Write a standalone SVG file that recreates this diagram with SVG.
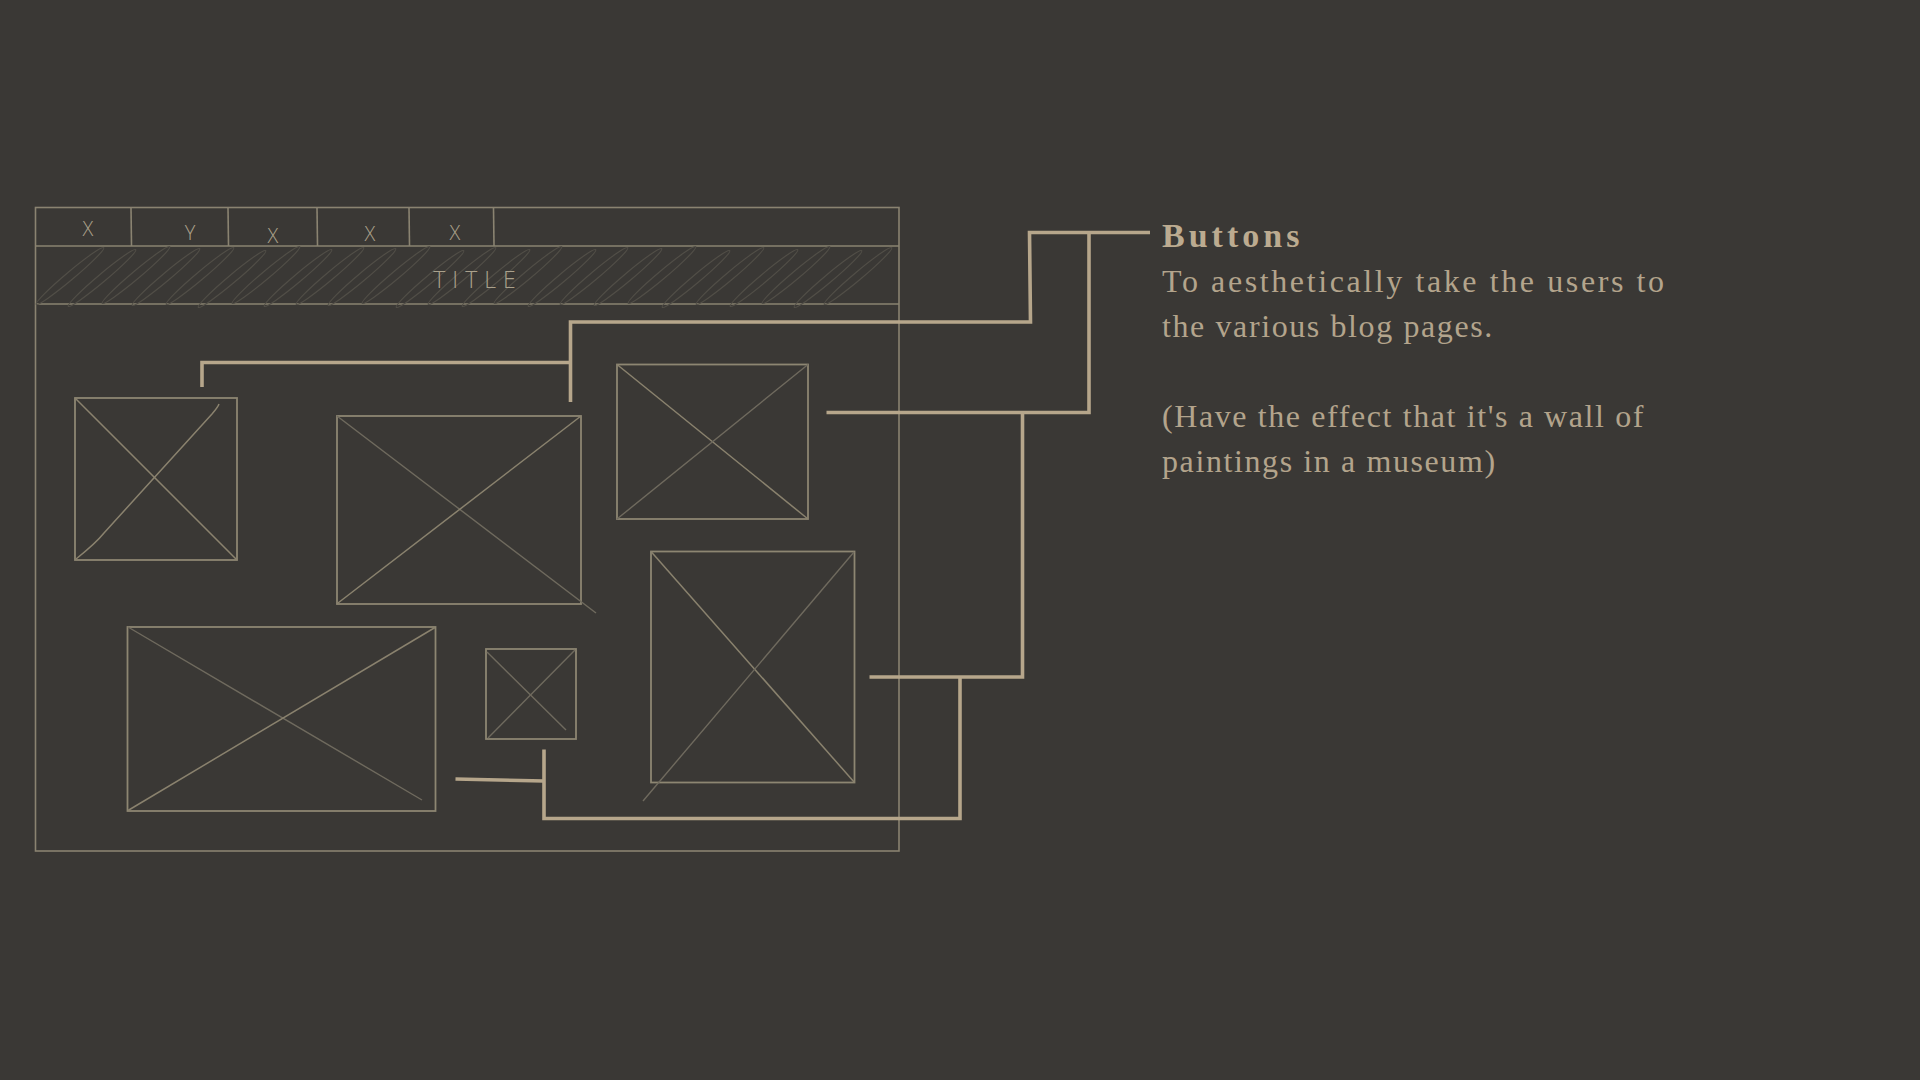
<svg xmlns="http://www.w3.org/2000/svg" width="1920" height="1080" viewBox="0 0 1920 1080">
<style>
.frame{fill:none;stroke:#8a8371;stroke-width:1.6}
.box{fill:none;stroke:#8d8672;stroke-width:1.8}
.diag{fill:none;stroke:#8a826e;stroke-width:1.5}
.diag2{fill:none;stroke:#6f6a5e;stroke-width:1.4}
.hatch{fill:none;stroke:#514e47;stroke-width:1.2}
.conn{fill:none;stroke:#b6a68b;stroke-width:3.6;stroke-linejoin:miter;stroke-linecap:butt}
.tabx{font-family:"Open Sans","Liberation Sans",sans-serif;font-weight:300;font-size:20px;fill:#aaa08a;text-anchor:middle}
.title{font-family:"Open Sans","Liberation Sans",sans-serif;font-weight:300;font-size:23px;fill:#aaa18c;letter-spacing:7px;text-anchor:middle}
.head{font-family:"Liberation Serif","Times New Roman",serif;font-weight:bold;font-size:34px;fill:#bcab90;letter-spacing:4px}
.body{font-family:"Liberation Serif","Times New Roman",serif;font-size:32px;fill:#b3a48c;letter-spacing:1.6px}
</style>
<defs>
  <ellipse id="loop" cx="0" cy="0" rx="44" ry="4" class="hatch" transform="rotate(-40)"/>
</defs>
<rect width="1920" height="1080" fill="#3a3835"/>

<g id="browser-window">
  <rect class="frame" x="35.5" y="207.5" width="863.5" height="643.5"/>
  <line class="frame" x1="35.5" y1="246" x2="899" y2="246"/>
  <line class="frame" x1="35.5" y1="304" x2="899" y2="304"/>
  <line class="frame" x1="131" y1="207.5" x2="131.5" y2="246"/>
  <line class="frame" x1="228" y1="207.5" x2="228.5" y2="246"/>
  <line class="frame" x1="317" y1="207.5" x2="317.5" y2="246"/>
  <line class="frame" x1="409" y1="207.5" x2="409.5" y2="246"/>
  <line class="frame" x1="493.5" y1="207.5" x2="494" y2="246"/>
</g>

<g id="tabs">
  <text class="tabx" x="88" y="236">X</text>
  <text class="tabx" x="190" y="240">Y</text>
  <text class="tabx" x="273" y="243">X</text>
  <text class="tabx" x="370" y="241">X</text>
  <text class="tabx" x="455" y="240">X</text>
</g>

<g id="title-bar">
  <use href="#loop" x="70" y="276"/>
  <use href="#loop" x="102" y="278"/>
  <use href="#loop" x="136" y="275"/>
  <use href="#loop" x="166" y="277"/>
  <use href="#loop" x="200" y="276"/>
  <use href="#loop" x="232" y="279"/>
  <use href="#loop" x="266" y="275"/>
  <use href="#loop" x="298" y="278"/>
  <use href="#loop" x="330" y="276"/>
  <use href="#loop" x="362" y="277"/>
  <use href="#loop" x="396" y="275"/>
  <use href="#loop" x="430" y="279"/>
  <use href="#loop" x="462" y="276"/>
  <use href="#loop" x="496" y="278"/>
  <use href="#loop" x="528" y="275"/>
  <use href="#loop" x="562" y="278"/>
  <use href="#loop" x="594" y="276"/>
  <use href="#loop" x="628" y="277"/>
  <use href="#loop" x="662" y="275"/>
  <use href="#loop" x="696" y="279"/>
  <use href="#loop" x="730" y="276"/>
  <use href="#loop" x="764" y="278"/>
  <use href="#loop" x="796" y="275"/>
  <use href="#loop" x="828" y="279"/>
  <use href="#loop" x="858" y="276"/>
  <text class="title" x="478" y="288">TITLE</text>
</g>

<g id="image-1">
  <rect class="box" x="75" y="398" width="162" height="162"/>
  <line class="diag" x1="75" y1="398" x2="237" y2="560"/>
  <path class="diag" d="M76,559 Q96,543 104,533 L212,414 Q218,407 219,404"/>
</g>

<g id="image-2">
  <rect class="box" x="337" y="416" width="244" height="188"/>
  <line class="diag2" x1="337" y1="416" x2="596" y2="613"/>
  <line class="diag" x1="338" y1="603" x2="581" y2="416"/>
</g>

<g id="image-3">
  <rect class="box" x="617" y="364.5" width="191" height="154.5"/>
  <line class="diag" x1="617" y1="364.5" x2="808" y2="519"/>
  <line class="diag2" x1="617" y1="519" x2="808" y2="364.5"/>
</g>

<g id="image-4">
  <rect class="box" x="651" y="551.5" width="203.5" height="231"/>
  <line class="diag" x1="651" y1="551.5" x2="854.5" y2="782.5"/>
  <line class="diag2" x1="643" y1="801" x2="854" y2="552"/>
</g>

<g id="image-5">
  <rect class="box" x="127.5" y="627" width="308" height="184"/>
  <line class="diag2" x1="128" y1="627" x2="422" y2="800"/>
  <line class="diag" x1="128" y1="810.5" x2="435" y2="627.5"/>
</g>

<g id="image-6">
  <rect class="box" x="486" y="649" width="90" height="90"/>
  <line class="diag2" x1="487" y1="652" x2="566" y2="730"/>
  <line class="diag2" x1="488" y1="738" x2="575" y2="650"/>
</g>

<g id="connectors">
  <path class="conn" d="M1150,232.5 H1029.5 L1030.5,322 H570.5 V402"/>
  <path class="conn" d="M570.5,362.5 H202 V387"/>
  <path class="conn" d="M1089,232.5 V412.5 H826.5"/>
  <path class="conn" d="M1022.5,412.5 V677 H869.5"/>
  <path class="conn" d="M960,677 V818.5 H544 V749.5"/>
  <path class="conn" d="M455.5,779 L544,781"/>
</g>

<g id="label-buttons">
  <text class="head" x="1162" y="247">Buttons</text>
  <text class="body" x="1162" y="292" style="letter-spacing:2.6px">To aesthetically take the users to</text>
  <text class="body" x="1162" y="337">the various blog pages.</text>
  <text class="body" x="1162" y="427">(Have the effect that it's a wall of</text>
  <text class="body" x="1162" y="472">paintings in a museum)</text>
</g>
</svg>
